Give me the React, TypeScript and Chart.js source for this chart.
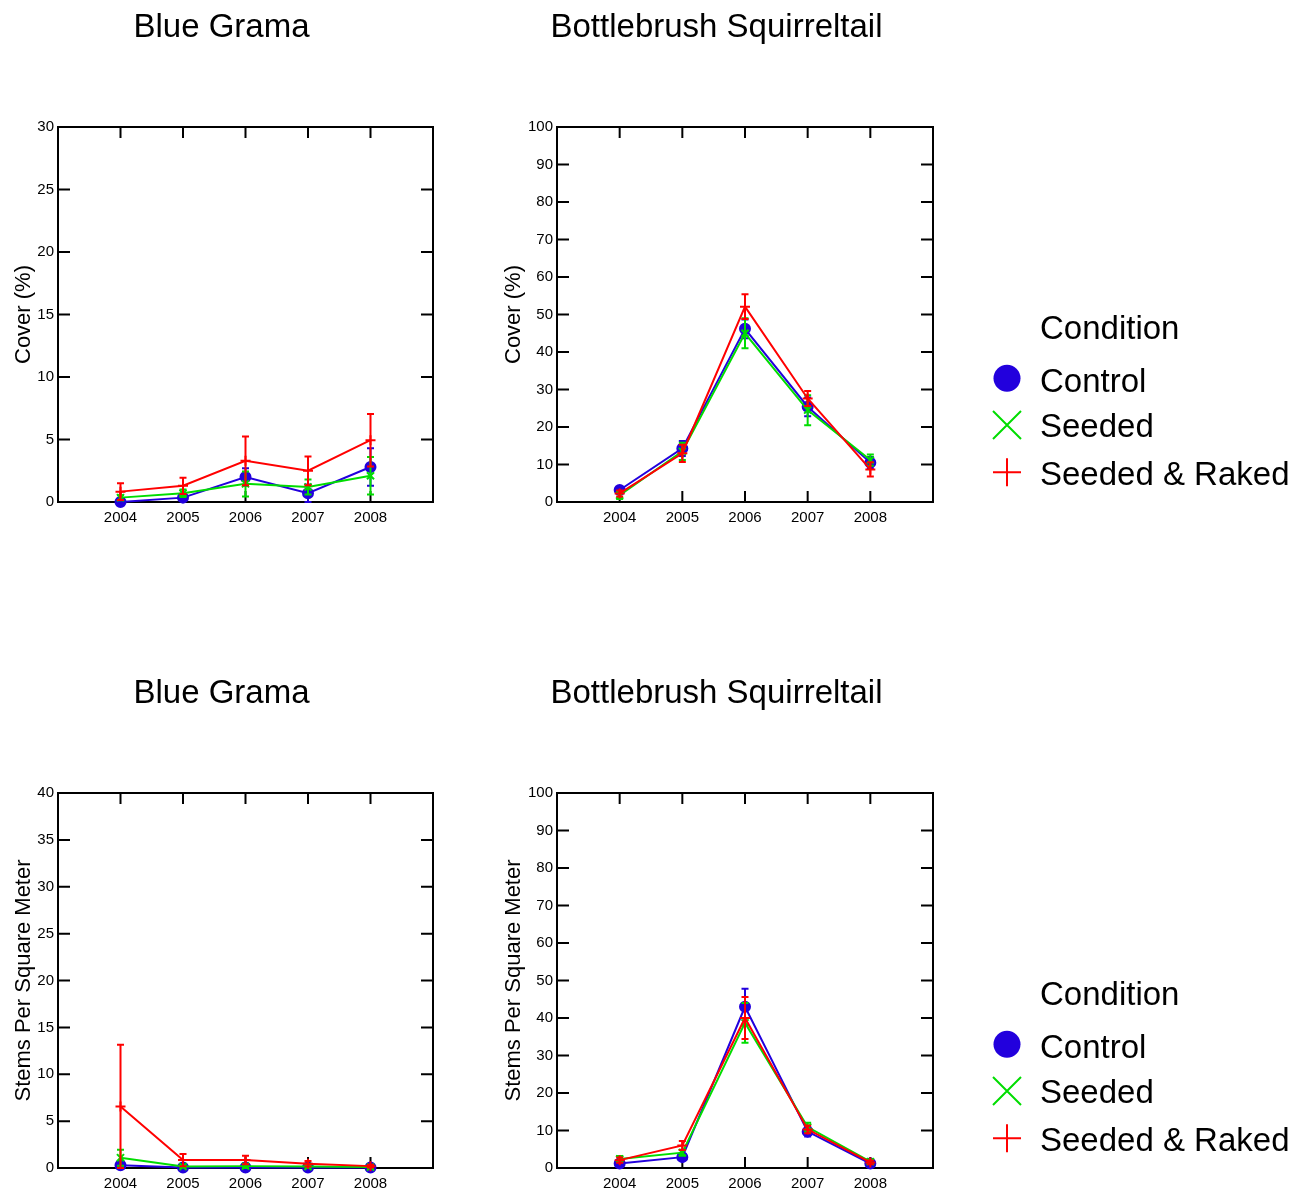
import React, { useEffect, useRef } from "react";
import { Chart, registerables } from "chart.js";

Chart.register(...registerables);

const FONT = "'Liberation Sans', Arial, Helvetica, sans-serif";

// ---- categories / labels ----
const YEARS = [2004, 2005, 2006, 2007, 2008];
const SERIES_NAMES = ["Control", "Seeded", "Seeded & Raked"];
const LEGEND_TITLE = "Condition";
const COLORS = ["#2200dd", "#00dd00", "#ff0000"];
const POINT_STYLES = ["circle", "crossRot", "cross"];

// ---- Blue Grama: Cover (%) ----
const bgCoverControl = [0.0, 0.35, 2.0, 0.7, 2.8];
const bgCoverControlErr = [0.1, 0.2, 0.7, 0.7, 1.5];
const bgCoverSeeded = [0.35, 0.7, 1.45, 1.2, 2.1];
const bgCoverSeededErr = [0.2, 0.3, 1.0, 0.6, 1.5];
const bgCoverRaked = [0.83, 1.3, 3.3, 2.5, 4.95];
const bgCoverRakedErr = [0.67, 0.65, 1.95, 1.15, 2.1];

// ---- Bottlebrush Squirreltail: Cover (%) ----
const bsCoverControl = [3.2, 14.3, 46.2, 25.4, 10.5];
const bsCoverControlErr = [0.8, 2.0, 2.5, 2.5, 1.5];
const bsCoverSeeded = [1.8, 13.5, 45.0, 24.5, 11.2];
const bsCoverSeededErr = [1.0, 2.3, 4.0, 4.0, 1.5];
const bsCoverRaked = [2.3, 13.0, 52.1, 27.6, 8.7];
const bsCoverRakedErr = [0.8, 2.3, 3.3, 2.0, 1.9];

// ---- Blue Grama: Stems Per Square Meter ----
const bgStemsControl = [0.3, 0.05, 0.05, 0.05, 0.05];
const bgStemsControlErr = [0.2, 0.05, 0.05, 0.05, 0.05];
const bgStemsSeeded = [1.1, 0.15, 0.2, 0.15, 0.1];
const bgStemsSeededErr = [0.85, 0.1, 0.2, 0.1, 0.1];
const bgStemsRaked = [6.55, 0.85, 0.85, 0.45, 0.2];
const bgStemsRakedErr = [6.6, 0.65, 0.45, 0.3, 0.15];

// ---- Bottlebrush Squirreltail: Stems Per Square Meter ----
const bsStemsControl = [1.2, 2.9, 43.0, 9.7, 1.2];
const bsStemsControlErr = [0.5, 0.8, 4.8, 1.3, 0.5];
const bsStemsSeeded = [2.4, 4.1, 38.7, 10.9, 1.7];
const bsStemsSeededErr = [0.8, 0.8, 5.3, 1.2, 0.6];
const bsStemsRaked = [2.1, 6.0, 40.0, 10.3, 1.5];
const bsStemsRakedErr = [0.7, 1.2, 5.6, 1.0, 0.5];

type Spec = {
  title: string;
  yTitle: string;
  yMax: number;
  yStep: number;
  values: number[][];
  errors: number[][];
};

const PANEL_TL: Spec = {
  title: "Blue Grama",
  yTitle: "Cover (%)",
  yMax: 30,
  yStep: 5,
  values: [bgCoverControl, bgCoverSeeded, bgCoverRaked],
  errors: [bgCoverControlErr, bgCoverSeededErr, bgCoverRakedErr],
};
const PANEL_TR: Spec = {
  title: "Bottlebrush Squirreltail",
  yTitle: "Cover (%)",
  yMax: 100,
  yStep: 10,
  values: [bsCoverControl, bsCoverSeeded, bsCoverRaked],
  errors: [bsCoverControlErr, bsCoverSeededErr, bsCoverRakedErr],
};
const PANEL_BL: Spec = {
  title: "Blue Grama",
  yTitle: "Stems Per Square Meter",
  yMax: 40,
  yStep: 5,
  values: [bgStemsControl, bgStemsSeeded, bgStemsRaked],
  errors: [bgStemsControlErr, bgStemsSeededErr, bgStemsRakedErr],
};
const PANEL_BR: Spec = {
  title: "Bottlebrush Squirreltail",
  yTitle: "Stems Per Square Meter",
  yMax: 100,
  yStep: 10,
  values: [bsStemsControl, bsStemsSeeded, bsStemsRaked],
  errors: [bsStemsControlErr, bsStemsSeededErr, bsStemsRakedErr],
};

// frame with inward ticks on all four sides
const framePlugin = {
  id: "frame",
  beforeDatasetsDraw(chart: any) {
    const { ctx, chartArea: ca, scales } = chart;
    const xs = scales.x;
    const ys = scales.y;
    ctx.save();
    ctx.strokeStyle = "#000";
    ctx.lineWidth = 2;
    ctx.strokeRect(ca.left, ca.top, ca.right - ca.left, ca.bottom - ca.top);
    ctx.beginPath();
    ys.ticks.forEach((t: any) => {
      const y = ys.getPixelForValue(t.value);
      ctx.moveTo(ca.left, y);
      ctx.lineTo(ca.left + 12, y);
      ctx.moveTo(ca.right, y);
      ctx.lineTo(ca.right - 12, y);
    });
    xs.ticks.forEach((t: any) => {
      const x = xs.getPixelForValue(t.value);
      ctx.moveTo(x, ca.bottom);
      ctx.lineTo(x, ca.bottom - 11);
      ctx.moveTo(x, ca.top);
      ctx.lineTo(x, ca.top + 11);
    });
    ctx.stroke();
    ctx.restore();
  },
};

// error bars for each dataset, drawn right after its line
const errorBarPlugin = {
  id: "errorBars",
  afterDatasetDraw(chart: any, args: any, opts: any) {
    const errs: number[] = opts.errors[args.index];
    const vals: number[] = opts.values[args.index];
    const color = COLORS[args.index];
    const { ctx, scales } = chart;
    const xs = scales.x;
    const ys = scales.y;
    ctx.save();
    ctx.strokeStyle = color;
    ctx.lineWidth = 2;
    ctx.beginPath();
    YEARS.forEach((yr, j) => {
      const x = xs.getPixelForValue(yr);
      const hi = ys.getPixelForValue(vals[j] + errs[j]);
      const lo = ys.getPixelForValue(Math.max(ys.min, vals[j] - errs[j]));
      ctx.moveTo(x, hi);
      ctx.lineTo(x, lo);
      ctx.moveTo(x - 3.5, hi);
      ctx.lineTo(x + 3.5, hi);
      ctx.moveTo(x - 3.5, lo);
      ctx.lineTo(x + 3.5, lo);
    });
    ctx.stroke();
    ctx.restore();
  },
};

// legend drawn to the right of the plot area
const sideLegendPlugin = {
  id: "sideLegend",
  afterDraw(chart: any, _args: any, opts: any) {
    if (!opts.show) return;
    const { ctx, chartArea: ca } = chart;
    const mx = ca.right + 74;
    const tx = ca.right + 107;
    const markerY = [251.3, 298, 345.3];
    const textY = [264.7, 310.3, 358];
    ctx.save();
    ctx.font = `33px ${FONT}`;
    ctx.fillStyle = "#000";
    ctx.textAlign = "left";
    ctx.textBaseline = "alphabetic";
    ctx.fillText(LEGEND_TITLE, tx, ca.top + 212.3);
    SERIES_NAMES.forEach((name, i) => {
      const cy = ca.top + markerY[i];
      ctx.fillStyle = COLORS[i];
      ctx.strokeStyle = COLORS[i];
      ctx.lineWidth = 2;
      const style = POINT_STYLES[i];
      if (style === "circle") {
        ctx.beginPath();
        ctx.arc(mx, cy, 13.5, 0, Math.PI * 2);
        ctx.fill();
      } else if (style === "crossRot") {
        ctx.beginPath();
        ctx.moveTo(mx - 14, cy - 14);
        ctx.lineTo(mx + 14, cy + 14);
        ctx.moveTo(mx - 14, cy + 14);
        ctx.lineTo(mx + 14, cy - 14);
        ctx.stroke();
      } else {
        ctx.beginPath();
        ctx.moveTo(mx - 14, cy);
        ctx.lineTo(mx + 14, cy);
        ctx.moveTo(mx, cy - 14);
        ctx.lineTo(mx, cy + 14);
        ctx.stroke();
      }
      ctx.fillStyle = "#000";
      ctx.fillText(name, tx, ca.top + textY[i]);
    });
    ctx.restore();
  },
};

function buildConfig(spec: Spec, right: boolean): any {
  const datasets = SERIES_NAMES.map((name, i) => ({
    label: name,
    data: YEARS.map((yr, j) => ({ x: yr, y: spec.values[i][j] })),
    borderColor: COLORS[i],
    backgroundColor: COLORS[i],
    borderWidth: 2,
    pointStyle: POINT_STYLES[i],
    pointRadius: 5,
    pointBorderWidth: 2,
    pointBackgroundColor: COLORS[i],
    pointBorderColor: COLORS[i],
    tension: 0,
    fill: false,
    clip: false,
    order: 3 - i,
  }));
  return {
    type: "line",
    data: { datasets },
    options: {
      responsive: false,
      animation: false,
      devicePixelRatio: 1,
      layout: { padding: { left: 10, right: right ? 376 : 10, top: 0, bottom: 0 } },
      plugins: {
        legend: { display: false },
        tooltip: { enabled: false },
        title: {
          display: true,
          text: spec.title,
          color: "#000",
          font: { size: 33, family: FONT, weight: "normal", lineHeight: 1.2 },
          padding: { top: 8.5, bottom: 78.9 },
        },
        errorBars: { errors: spec.errors, values: spec.values },
        sideLegend: { show: right },
      },
      scales: {
        x: {
          type: "linear",
          min: 2003,
          max: 2009,
          grid: { display: false, drawTicks: false },
          border: { display: false },
          afterBuildTicks: (s: any) => {
            s.ticks = YEARS.map((v) => ({ value: v }));
          },
          afterFit: (s: any) => {
            s.height = 24;
          },
          ticks: {
            color: "#000",
            font: { size: 15, family: FONT },
            padding: 7,
            maxRotation: 0,
            autoSkip: false,
            callback: (v: any) => String(v),
          },
        },
        y: {
          type: "linear",
          min: 0,
          max: spec.yMax,
          grid: { display: false, drawTicks: false },
          border: { display: false },
          afterFit: (s: any) => {
            s.width = right ? 57 : 48;
          },
          ticks: {
            stepSize: spec.yStep,
            color: "#000",
            font: { size: 15, family: FONT },
            padding: 4,
          },
          title: {
            display: true,
            text: spec.yTitle,
            color: "#000",
            font: { size: 22, family: FONT, lineHeight: 1.2 },
            padding: { top: 0.5, bottom: 0 },
          },
        },
      },
    },
    plugins: [framePlugin, errorBarPlugin, sideLegendPlugin],
  };
}

function Panel(props: { spec: Spec; left: number; top: number; width: number; height: number; right: boolean }) {
  const ref = useRef<HTMLCanvasElement | null>(null);
  useEffect(() => {
    const chart = new Chart(ref.current as HTMLCanvasElement, buildConfig(props.spec, props.right));
    return () => chart.destroy();
  }, []);
  return (
    <canvas
      ref={ref}
      width={props.width}
      height={props.height}
      style={{
        position: "absolute",
        left: props.left,
        top: props.top,
        width: props.width,
        height: props.height,
        display: "block",
      }}
    />
  );
}

export default function App() {
  return (
    <div
      style={{
        position: "absolute",
        left: 0,
        top: 0,
        width: 1309,
        height: 1192,
        overflow: "hidden",
        background: "#fff",
      }}
    >
      <Panel spec={PANEL_TL} left={0} top={0} width={443} height={526} right={false} />
      <Panel spec={PANEL_TR} left={490} top={0} width={819} height={526} right={true} />
      <Panel spec={PANEL_BL} left={0} top={666} width={443} height={526} right={false} />
      <Panel spec={PANEL_BR} left={490} top={666} width={819} height={526} right={true} />
    </div>
  );
}
